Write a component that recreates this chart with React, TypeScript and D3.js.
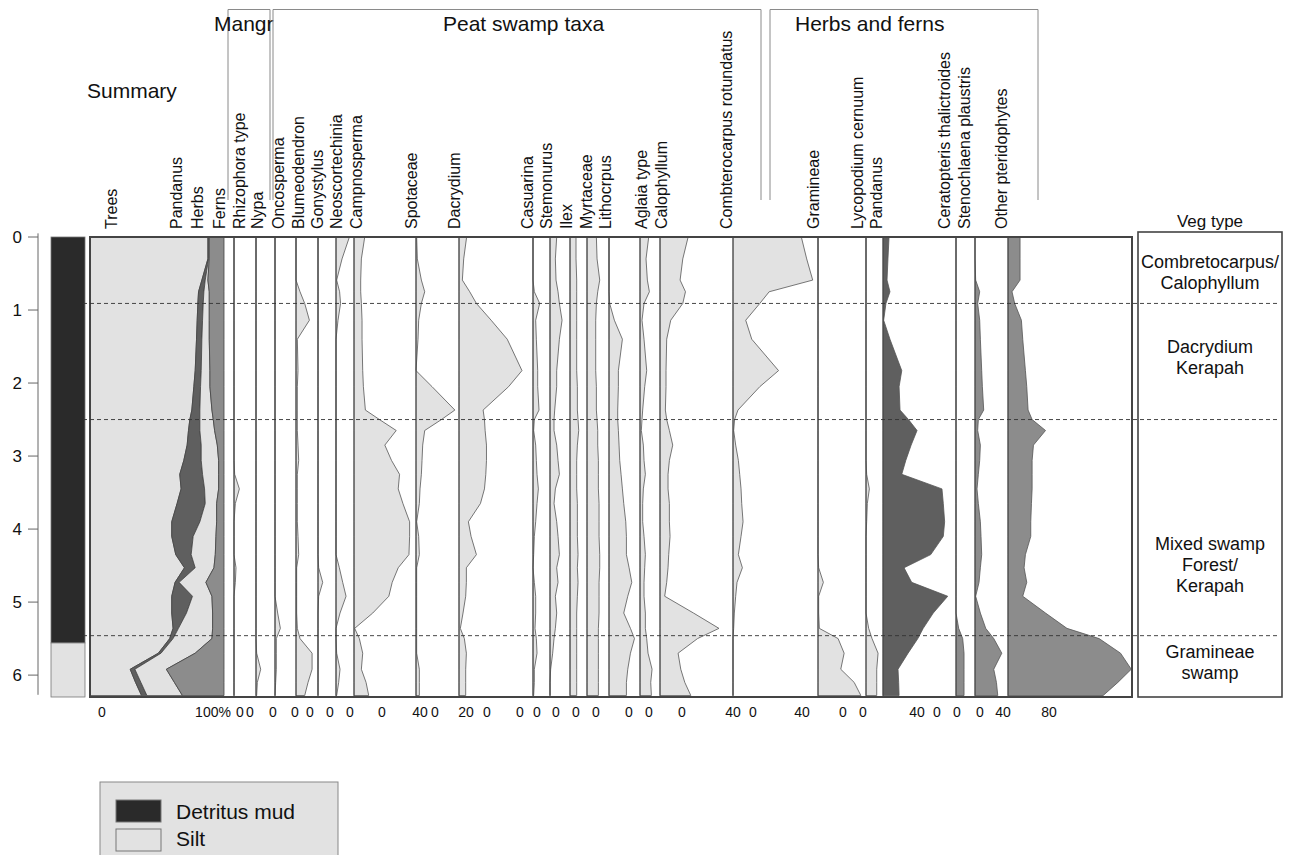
import React from 'react';
import * as d3 from 'd3';

// sample depths (m) shared by every curve
const depths = [0, 0.3, 0.59, 0.75, 0.91, 1.14, 1.4, 1.83, 2.05, 2.37, 2.5, 2.65, 2.85, 3.06, 3.25, 3.45, 3.65, 3.9, 4.1, 4.35, 4.53, 4.73, 4.92, 5.15, 5.36, 5.5, 5.7, 5.92, 6.1, 6.28];

// summary (%)
const trees = [88, 88, 83.5, 81, 80.5, 80, 79.5, 78.5, 77.5, 76, 74.5, 73.5, 72.5, 70, 67, 68, 65, 61, 61, 64, 70.5, 63.5, 61, 61, 62, 59.5, 51, 30, 34, 38.5];
const pandanusSum = [0.5, 0.5, 2.5, 4, 4, 4, 4, 4.5, 5, 6, 7.5, 8.5, 10.5, 13, 17, 17.5, 21, 21, 16, 11.5, 8, 3, 15.5, 11, 4, 2.5, 2, 3.5, 4, 4];
const herbsSum = [0.5, 0.5, 2, 4, 4.5, 5, 5.5, 6.5, 7, 9, 10, 11, 12, 13, 12, 10.5, 8.5, 12.5, 17, 18, 14, 20, 14.5, 19.5, 25.5, 29, 25.5, 23.5, 25, 26.5];
const fernsSum = [11, 11, 12, 11, 11, 11, 11, 10.5, 10.5, 9, 8, 7, 5, 4, 4, 4, 5.5, 5.5, 6, 6.5, 7.5, 13.5, 9, 8.5, 8.5, 9, 21.5, 43, 37, 31];

// taxa (%)
const rhizophora = [0, 0, 0, 0, 0, 0, 0, 0, 0, 0, 0, 0, 0, 0, 0.5, 4, 1, 0, 0, 0, 1.5, 1, 0, 0, 0, 0, 0, 0, 0, 0];
const nypa = [0, 0, 0, 0, 0, 0, 0, 0, 0, 0, 0, 0, 0, 0, 0, 0, 0, 0, 0, 0, 0, 0, 0, 0, 0, 0, 0.5, 3.5, 1, 0.5];
const oncosperma = [0, 0, 0, 0, 0, 0, 0, 0, 0, 0, 0, 0, 0, 0, 0, 0, 0, 0, 0, 0, 0, 0, 0, 2, 4, 1, 1, 1, 0.5, 0];
const blumeodendron = [0, 0, 0, 3, 6.5, 10, 1, 1.5, 1, 1, 1, 1, 1.5, 2, 1, 1, 1, 1, 1.5, 2, 0.5, 0.5, 0.5, 0.5, 1, 3, 12, 12, 9, 6.5];
const gonystylus = [0, 0, 0, 0, 0, 0, 0, 0, 0, 0, 0, 0, 0, 0, 0, 0, 0, 0, 0, 0, 0.5, 3.5, 0.5, 0, 0, 0, 0, 0, 0, 0];
const neoscortechinia = [10, 4.5, 0.5, 2.7, 3.4, 1.5, 0, 0, 0, 0, 0, 0, 0, 0, 0, 0, 0, 0, 0, 0, 2.5, 5, 7.5, 3, 0, 0, 0.5, 3, 2, 0.5];
const campnosperma = [8, 5.5, 5, 5, 5.5, 6, 6, 6.5, 7, 8.5, 19, 31.5, 23, 28, 34, 33, 36.5, 41.5, 41.5, 41, 33, 28.5, 26, 14, 0.5, 4, 6.5, 5.5, 9, 11];
const spotaceae = [0.5, 1, 4, 6.5, 4, 2, 1.5, 0, 12, 29, 19, 6.5, 5, 4.5, 4, 3, 2.5, 0.5, 2, 2.5, 0.5, 0.5, 0.5, 0.5, 0.5, 0.5, 0.5, 2.5, 2.5, 2.5];
const dacrydium = [5.7, 3.5, 2.5, 8, 13, 24, 36, 47, 37, 18, 19, 19.5, 20.5, 20.5, 20, 19, 16, 7, 9, 13, 5.5, 5.5, 5, 3, 1, 4, 5.5, 5, 5, 5];
const casuarina = [0, 0, 0, 1, 5, 2, 2.5, 3.5, 3.5, 4.5, 1, 0.5, 2, 2.5, 3, 4, 3, 2, 1, 0.5, 0, 1, 2, 2, 1.5, 2.5, 3, 1, 1, 0.5];
const stemonurus = [5, 4, 4.5, 6, 7, 9, 7, 5, 5, 3.5, 3, 3, 5, 6, 7, 4, 3, 5, 6, 7, 5, 6, 4, 5, 4, 3, 2, 0.5, 0, 0];
const ilex = [4.5, 4.5, 5, 5, 5, 5, 5, 5, 5.5, 5.5, 6, 6.5, 5.5, 5, 5, 5, 5.5, 5.5, 5.5, 6, 5.5, 6, 5.5, 5, 5, 5, 5, 5, 5, 5];
const myrtaceae = [7, 7.5, 9.5, 8, 7, 6.5, 6.5, 6.5, 7, 7, 7.5, 8, 8, 8.5, 8.5, 8.5, 9, 9, 9, 9.5, 9.5, 9, 9, 9, 8.5, 8.5, 8.5, 8.5, 8.5, 8.5];
const lithocarpus = [0, 0, 0, 0, 0.5, 4, 10, 7, 7, 6.5, 6.5, 7, 7.5, 8, 9, 10, 11, 12.5, 13, 13, 15, 17, 14, 11, 16, 19, 16, 14, 13, 13];
const aglaia = [6.5, 4.5, 5.5, 7, 3, 1.5, 3, 5, 3.5, 2, 1.5, 1, 2.5, 3, 4, 2.5, 2, 2, 3, 4, 3.5, 3, 3, 4, 4, 5, 6, 9, 8, 8.5];
const calophyllum = [21, 17, 15, 19, 17, 8, 5, 4.5, 4.5, 4, 5, 7, 9.5, 7, 6, 6, 7, 7, 7.5, 6.5, 6, 5, 3.5, 25, 44, 28, 13.5, 15.5, 18.5, 23];
const combretocarpus = [51, 55, 59.5, 27, 20, 9.5, 14, 34, 20, 3.7, 1.2, 0.5, 2, 4, 5, 6, 6.5, 7.5, 6, 4, 7, 3, 2, 1, 0.5, 0, 0, 0, 0, 0];
const gramineae = [0, 0, 0, 0, 0, 0, 0, 0, 0, 0, 0, 0, 0, 0, 0, 0, 0, 0, 0, 0, 0.5, 4, 0.5, 0.5, 1, 15, 19.5, 17, 27, 32];
const lycopodium = [0, 0, 0, 0, 0, 0, 0, 0, 0, 0, 0, 0, 0, 0, 0.5, 2.5, 1, 0.5, 0, 0, 0, 0, 0, 0, 2, 4.5, 9, 8, 8, 8];
const pandanus = [4.5, 3.7, 3, 5.2, 2.2, 0.5, 5.2, 14, 12, 12.7, 19, 25.4, 21, 17, 14, 44, 45, 46, 45, 35.6, 15.7, 21.4, 48.3, 37.5, 30, 26, 18.7, 11.2, 11.7, 12];
const ceratopteris = [0, 0, 0, 0, 0, 0, 0, 0, 0, 0, 0, 0, 0, 0, 0, 0, 0, 0, 0, 0, 0, 0, 0, 0, 2, 5, 6, 6, 6, 6];
const stenochlaena = [0, 0, 0.5, 3.5, 2, 3.5, 4, 5, 5.5, 6.5, 2.5, 2, 4, 3.5, 2.5, 1.5, 2.5, 4, 4.5, 5, 4, 3, 0.5, 4, 8, 14, 20, 14, 16, 17];
const otherPterid = [9, 9, 9, 3, 5, 10, 11, 13, 14, 15, 18, 28, 19, 18, 18, 18, 17.5, 17, 17, 13, 12, 14, 11, 28, 44, 68, 84, 92, 82, 71];

// zones and lithology
const zoneBounds = [0.91, 2.5, 5.46];
const vegLabels = [['Combretocarpus/', 'Calophyllum'], ['Dacrydium', 'Kerapah'], ['Mixed swamp', 'Forest/', 'Kerapah'], ['Gramineae', 'swamp']];
const vegLabelDepth = [0.48, 1.65, 4.49, 5.82];
const lithology = [
    { name: 'Detritus mud', top: 0, bottom: 5.56 },
    { name: 'Silt', top: 5.56, bottom: 6.3 },
];
const depthTicks = [0, 1, 2, 3, 4, 5, 6];
const bottomTickText = ['0', '100%', '0', '0', '0', '0', '0', '0', '0', '0', '40', '0', '20', '0', '0', '0', '0', '0', '0', '0', '0', '0', '40', '0', '40', '0', '0', '40', '0', '0', '0', '40', '80'];

// layout (pixels)
const bottomTickX = [102, 213, 240, 250, 273, 295, 310, 330, 350, 382, 420, 435, 466, 487, 520, 537, 556, 576, 596, 629, 649, 682, 733, 753, 802, 843, 863, 917, 937, 957, 980, 1003, 1049];
const PX_PER_PCT = 1.34;
const LIGHT = '#e2e2e2';
const DARK = '#5f5f5f';
const MID = '#8c8c8c';
const MUD = '#2a2a2a';
const FONT = '"Liberation Sans", Arial, sans-serif';

const taxa = [
    { name: 'Rhizophora type', values: rhizophora, x0: 234, lx: 245, fill: LIGHT },
    { name: 'Nypa', values: nypa, x0: 256, lx: 263, fill: LIGHT },
    { name: 'Oncosperma', values: oncosperma, x0: 275, lx: 283.5, fill: LIGHT },
    { name: 'Blumeodendron', values: blumeodendron, x0: 296, lx: 304, fill: LIGHT },
    { name: 'Gonystylus', values: gonystylus, x0: 318, lx: 323, fill: LIGHT },
    { name: 'Neoscortechinia', values: neoscortechinia, x0: 336, lx: 342, fill: LIGHT },
    { name: 'Campnosperma', values: campnosperma, x0: 354, lx: 361.5, fill: LIGHT },
    { name: 'Spotaceae', values: spotaceae, x0: 416, lx: 416.5, fill: LIGHT },
    { name: 'Dacrydium', values: dacrydium, x0: 459, lx: 460, fill: LIGHT },
    { name: 'Casuarina', values: casuarina, x0: 533, lx: 533, fill: LIGHT },
    { name: 'Stemonurus', values: stemonurus, x0: 550, lx: 552, fill: LIGHT },
    { name: 'Ilex', values: ilex, x0: 570, lx: 572, fill: LIGHT },
    { name: 'Myrtaceae', values: myrtaceae, x0: 587, lx: 591.5, fill: LIGHT },
    { name: 'Lithocrpus', values: lithocarpus, x0: 609, lx: 610.5, fill: LIGHT },
    { name: 'Aglaia type', values: aglaia, x0: 640, lx: 646.5, fill: LIGHT },
    { name: 'Calophyllum', values: calophyllum, x0: 660, lx: 666.5, fill: LIGHT },
    { name: 'Combterocarpus rotundatus', values: combretocarpus, x0: 733, lx: 731.5, fill: LIGHT },
    { name: 'Gramineae', values: gramineae, x0: 818, lx: 819, fill: LIGHT },
    { name: 'Lycopodium cernuum', values: lycopodium, x0: 866, lx: 863, fill: LIGHT },
    { name: 'Pandanus', values: pandanus, x0: 883, lx: 881.5, fill: DARK },
    { name: 'Ceratopteris thalictroides', values: ceratopteris, x0: 956, lx: 949.5, fill: MID },
    { name: 'Stenochlaena plaustris', values: stenochlaena, x0: 975, lx: 969.5, fill: MID },
    { name: 'Other pteridophytes', values: otherPterid, x0: 1008, lx: 1006.5, fill: MID },
];

const summaryKeys = ['trees', 'pandanus', 'herbs', 'ferns'];
const summaryNames = ['Trees', 'Pandanus', 'Herbs', 'Ferns'];
const summaryFills = [LIGHT, DARK, LIGHT, MID];
const summaryLabelX = [116.7, 181.7, 203, 225];

const groups = [
    { name: 'Mangr', x0: 228, x1: 270, tx: 214 },
    { name: 'Peat swamp taxa', x0: 273, x1: 761, tx: 443 },
    { name: 'Herbs and ferns', x0: 770, x1: 1038, tx: 795 },
];

export default function App() {
    const plotLeft = 90;
    const plotRight = 1132;
    const y = d3.scaleLinear().domain([0, 6.3]).range([237, 697]);
    const sx = d3.scaleLinear().domain([0, 100]).range([plotLeft, plotLeft + 100 * PX_PER_PCT]);

    const rows = depths.map((d, i) => ({
        depth: d,
        trees: trees[i],
        pandanus: pandanusSum[i],
        herbs: herbsSum[i],
        ferns: fernsSum[i],
    }));
    const series = d3.stack().keys(summaryKeys)(rows as any);
    const stackArea = d3.area<any>()
        .y(d => y(d.data.depth))
        .x0(d => sx(d[0]))
        .x1(d => sx(d[1]));

    const vegX0 = 1138;
    const vegX1 = 1282;
    const vegCx = (vegX0 + vegX1) / 2;

    return (
        <svg width={1290} height={855} style={{ display: 'block', background: '#fff' }} fontFamily={FONT}>
            <style>{'body{margin:0}'}</style>
            <rect x={0} y={0} width={1290} height={855} fill="#fff" />

            {/* header brackets */}
            {groups.map(g => (
                <g key={g.name}>
                    <path d={`M${g.x0},200V9.5H${g.x1}V200`} fill="none" stroke="#8a8a8a" strokeWidth={1} />
                    <text x={g.tx} y={31} fontSize={21} fill="#111">{g.name}</text>
                </g>
            ))}
            <text x={87} y={98} fontSize={21} fill="#111">Summary</text>

            {/* lithology column */}
            {lithology.map(l => (
                <rect key={l.name} x={51} y={y(l.top)} width={34} height={y(l.bottom) - y(l.top)}
                    fill={l.name === 'Silt' ? LIGHT : MUD} stroke="#777" strokeWidth={0.8} />
            ))}

            {/* depth axis */}
            <line x1={38} x2={38} y1={y(-0.05)} y2={y(6.27)} stroke="#666" strokeWidth={1} />
            {depthTicks.map(t => (
                <g key={t}>
                    <line x1={28} x2={38} y1={y(t)} y2={y(t)} stroke="#666" strokeWidth={1} />
                    <text x={22} y={y(t)} dy="0.36em" textAnchor="end" fontSize={17} fill="#111">{t}</text>
                </g>
            ))}

            {/* summary stacked areas */}
            {series.map((s, i) => (
                <path key={s.key} d={stackArea(s) || ''} fill={summaryFills[i]} stroke="#444" strokeWidth={0.8} strokeLinejoin="round" />
            ))}
            {summaryNames.map((n, i) => (
                <text key={n} transform={`translate(${summaryLabelX[i]},229) rotate(-90)`} fontSize={16} fill="#111">{n}</text>
            ))}

            {/* taxa curves */}
            {taxa.map(t => {
                const s = d3.scaleLinear().domain([0, 100]).range([t.x0, t.x0 + 100 * PX_PER_PCT]);
                const area = d3.area<number>()
                    .y((_, i) => y(depths[i]))
                    .x0(t.x0)
                    .x1(v => s(v));
                return (
                    <g key={t.name}>
                        <path d={area(t.values) || ''} fill={t.fill} stroke="#555" strokeWidth={0.8} strokeLinejoin="round" />
                        <line x1={t.x0} x2={t.x0} y1={y(0)} y2={y(6.3)} stroke="#444" strokeWidth={1} />
                        <text transform={`translate(${t.lx},229) rotate(-90)`} fontSize={16} fill="#111">{t.name}</text>
                    </g>
                );
            })}

            {/* plot frame */}
            <rect x={plotLeft} y={y(0)} width={plotRight - plotLeft} height={y(6.3) - y(0)} fill="none" stroke="#444" strokeWidth={2} />

            {/* veg type box */}
            <rect x={vegX0} y={232} width={vegX1 - vegX0} height={697 - 232} fill="none" stroke="#444" strokeWidth={1.6} />
            <text x={vegCx} y={227} textAnchor="middle" fontSize={17} fill="#111">Veg type</text>
            {vegLabels.map((lines, i) => {
                const cy = y(vegLabelDepth[i]);
                const top = cy - ((lines.length - 1) * 21) / 2;
                return lines.map((ln, j) => (
                    <text key={i + '-' + j} x={vegCx} y={top + j * 21} dy="0.36em" textAnchor="middle" fontSize={18} fill="#111">{ln}</text>
                ));
            })}

            {/* zone boundaries */}
            {zoneBounds.map(z => (
                <line key={z} x1={83} x2={1280} y1={y(z)} y2={y(z)} stroke="#333" strokeWidth={0.9} strokeDasharray="4,3" />
            ))}

            {/* bottom scale labels */}
            {bottomTickText.map((t, i) => (
                <text key={i} x={bottomTickX[i]} y={717} textAnchor="middle" fontSize={14} fill="#111">{t}</text>
            ))}

            {/* legend */}
            <rect x={100} y={782} width={238} height={80} fill={LIGHT} stroke="#888" strokeWidth={1} />
            {lithology.map((l, i) => (
                <g key={l.name}>
                    <rect x={116} y={800 + i * 29} width={45} height={22} fill={l.name === 'Silt' ? LIGHT : MUD} stroke="#777" strokeWidth={1} />
                    <text x={176} y={819 + i * 27} fontSize={21} fill="#111">{l.name}</text>
                </g>
            ))}
        </svg>
    );
}
